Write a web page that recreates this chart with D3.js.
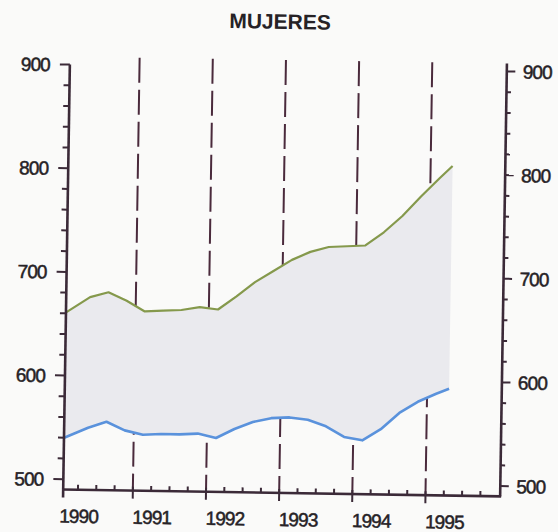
<!DOCTYPE html>
<html>
<head>
<meta charset="utf-8">
<script src="https://cdn.jsdelivr.net/npm/d3@7"></script>
<style>
  html, body { margin: 0; padding: 0; background: #fafaf9; }
  svg { display: block; }
  text { font-family: "Liberation Sans", Arial, Helvetica, sans-serif; fill: #262226; }
</style>
</head>
<body>
<svg id="chart" width="558" height="532"></svg>
<script>
// ---- data ----
const title = "MUJERES";
const yearLabels = ["1990", "1991", "1992", "1993", "1994", "1995"];
const yearStarts = [1990, 1991, 1992, 1993, 1994, 1995];
const yTickValues = [500, 600, 700, 800, 900];
// time of each observation (decimal year, quarterly)
const t = [1990.05, 1990.375, 1990.625, 1990.875, 1991.125, 1991.375, 1991.625, 1991.875,
           1992.125, 1992.375, 1992.625, 1992.875, 1993.125, 1993.375, 1993.625, 1993.875,
           1994.125, 1994.375, 1994.625, 1994.875, 1995.125, 1995.3];
// upper series (green)
const upper = [661, 676, 681, 673, 663, 664, 665, 668,
               666, 679, 693, 704, 715, 723, 728, 729,
               730, 743, 759, 778, 796, 808];
// lower series (blue)
const lower = [540, 550, 556, 548, 544, 545, 545, 546,
               542, 551, 558, 562, 563, 561, 555, 545,
               542, 553, 569, 580, 588, 593];

// ---- layout ----
const W = 558, H = 532;
const axisLeftX = 66.5, axisRightX = 503.5;
const svg = d3.select("#chart");
svg.append("rect").attr("width", W).attr("height", H).attr("fill", "#fafaf9");

const x = d3.scaleLinear().domain([1990, 1996]).range([63, 502]);
const y = d3.scaleLinear().domain([490, 900]).range([493, 68]);

const g = svg.append("g").attr("transform", "rotate(0.9, 285, 280)");

const axisColor = "#3b2a38";

// title
g.append("text")
  .attr("x", 276).attr("y", 29)
  .attr("text-anchor", "middle")
  .attr("font-size", 21).attr("font-weight", "bold")
  .text(title);

// dashed year separators (behind the band)
g.selectAll("line.sep").data(yearStarts.slice(1)).enter().append("line")
  .attr("class", "sep")
  .attr("x1", d => x(d)).attr("x2", d => x(d))
  .attr("y1", y(900) - 8).attr("y2", y(490))
  .attr("stroke", "#4a2a3c").attr("stroke-width", 2)
  .attr("stroke-dasharray", "25,7");

// band between series
const pts = t.map((d, i) => ({ t: d, hi: upper[i], lo: lower[i] }));
g.append("path").datum(pts)
  .attr("d", d3.area().x(d => x(d.t)).y0(d => y(d.lo)).y1(d => y(d.hi)))
  .attr("fill", "#eaeaee");

// lines
g.append("path").datum(pts)
  .attr("d", d3.line().x(d => x(d.t)).y(d => y(d.hi)))
  .attr("fill", "none").attr("stroke", "#85994c").attr("stroke-width", 2.2)
  .attr("stroke-linejoin", "round");
g.append("path").datum(pts)
  .attr("d", d3.line().x(d => x(d.t)).y(d => y(d.lo)))
  .attr("fill", "none").attr("stroke", "#5a92dc").attr("stroke-width", 2.6)
  .attr("stroke-linejoin", "round");

// y axes
const minorY = d3.range(500, 901, 20);
function yAxis(xPos, dir) {
  const a = g.append("g");
  a.append("line").attr("x1", xPos).attr("x2", xPos)
    .attr("y1", y(900) - (dir > 0 ? 8 : 0)).attr("y2", y(490))
    .attr("stroke", axisColor).attr("stroke-width", 2.6);
  a.selectAll("line.t").data(minorY).enter().append("line")
    .attr("x1", xPos)
    .attr("x2", d => xPos + dir * (d % 100 === 0 ? (dir < 0 ? 10 : 8.5) : (dir < 0 ? 6 : 4.5)))
    .attr("y1", d => y(d)).attr("y2", d => y(d))
    .attr("stroke", axisColor).attr("stroke-width", 2);
  a.selectAll("text").data(yTickValues).enter().append("text")
    .attr("x", dir < 0 ? xPos - 20 : xPos + 16)
    .attr("y", d => y(d)).attr("dy", "0.36em")
    .attr("text-anchor", dir < 0 ? "end" : "start")
    .attr("font-size", 19).attr("letter-spacing", -0.9)
    .attr("stroke", "#262226").attr("stroke-width", 0.5)
    .text(d => d);
}
yAxis(axisLeftX, -1);
yAxis(axisRightX, 1);

// x axis
const xa = g.append("g");
xa.append("line").attr("x1", axisLeftX - 1).attr("x2", axisRightX + 1)
  .attr("y1", y(490)).attr("y2", y(490))
  .attr("stroke", axisColor).attr("stroke-width", 2.6);
const quarters = d3.range(1990.25, 1996, 0.25).filter(q => Math.abs(q - Math.round(q)) > 0.01);
xa.selectAll("line.q").data(quarters).enter().append("line")
  .attr("x1", d => x(d)).attr("x2", d => x(d))
  .attr("y1", y(490)).attr("y2", y(490) - 5)
  .attr("stroke", axisColor).attr("stroke-width", 2);
xa.selectAll("line.yr").data(yearStarts.slice(1)).enter().append("line")
  .attr("x1", d => x(d)).attr("x2", d => x(d))
  .attr("y1", y(490) - 4).attr("y2", y(490) + 8)
  .attr("stroke", axisColor).attr("stroke-width", 2);
xa.append("line").attr("x1", axisLeftX).attr("x2", axisLeftX)
  .attr("y1", y(490)).attr("y2", y(490) + 8)
  .attr("stroke", axisColor).attr("stroke-width", 2.6);
xa.selectAll("text").data(yearStarts).enter().append("text")
  .attr("x", d => x(d))
  .attr("y", y(490) + 33)
  .attr("text-anchor", "start")
  .attr("font-size", 19).attr("letter-spacing", -0.9)
  .attr("stroke", "#262226").attr("stroke-width", 0.5)
  .text((d, i) => yearLabels[i]);
</script>
</body>
</html>
